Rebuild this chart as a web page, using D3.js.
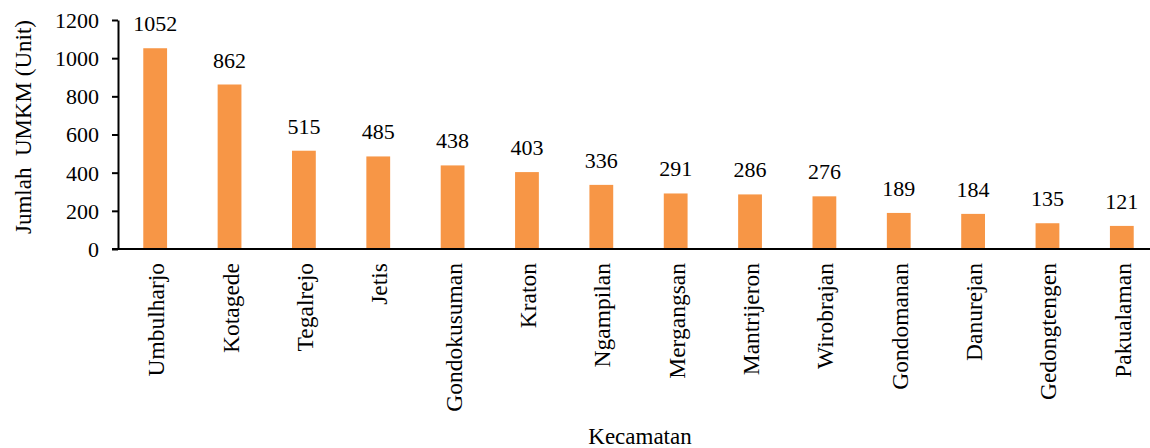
<!DOCTYPE html>
<html>
<head>
<meta charset="utf-8">
<script src="https://cdn.jsdelivr.net/npm/d3@7"></script>
<style>
  body { margin: 0; background: #fff; }
  svg text { font-family: "Times New Roman", "Liberation Serif", serif !important; fill: #000; }
</style>
</head>
<body>
<svg id="chart" width="1150" height="448"></svg>
<script>
  // data
  var kecamatan = ["Umbulharjo", "Kotagede", "Tegalrejo", "Jetis", "Gondokusuman", "Kraton",
    "Ngampilan", "Mergangsan", "Mantrijeron", "Wirobrajan", "Gondomanan", "Danurejan",
    "Gedongtengen", "Pakualaman"];
  var jumlah = [1052, 862, 515, 485, 438, 403, 336, 291, 286, 276, 189, 184, 135, 121];
  var yTicks = [0, 200, 400, 600, 800, 1000, 1200];

  var svg = d3.select("#chart");
  var m = { left: 118, right: 1159, top: 20, bottom: 249 };

  var x = d3.scaleBand()
    .domain(kecamatan)
    .range([m.left, m.right])
    .paddingInner(0.68)
    .paddingOuter(0.34);

  var y = d3.scaleLinear()
    .domain([0, 1200])
    .range([m.bottom, m.top]);

  // bars
  svg.append("g").selectAll("rect")
    .data(kecamatan)
    .enter().append("rect")
    .attr("x", function (d) { return x(d); })
    .attr("y", function (d, i) { return y(jumlah[i]); })
    .attr("width", x.bandwidth())
    .attr("height", function (d, i) { return m.bottom - y(jumlah[i]); })
    .attr("fill", "#f79646");

  // value labels
  svg.append("g").selectAll("text")
    .data(kecamatan)
    .enter().append("text")
    .attr("x", function (d) { return x(d) + x.bandwidth() / 2; })
    .attr("y", function (d, i) { return y(jumlah[i]) - 17; })
    .attr("text-anchor", "middle")
    .style("font-size", "22px")
    .text(function (d, i) { return jumlah[i]; });

  // y axis
  var yAxis = svg.append("g")
    .attr("transform", "translate(" + m.left + ",0)")
    .call(d3.axisLeft(y).tickValues(yTicks).tickFormat(d3.format("d"))
      .tickSize(6).tickPadding(13).tickSizeOuter(0));
  yAxis.attr("font-family", null);
  yAxis.selectAll("text").style("font-size", "22px").attr("dy", "0.34em");
  yAxis.selectAll("line, path").attr("stroke", "#000").attr("stroke-width", 2);

  // x axis line
  svg.append("line")
    .attr("x1", m.left - 6).attr("x2", 1150)
    .attr("y1", m.bottom).attr("y2", m.bottom)
    .attr("stroke", "#000").attr("stroke-width", 2);

  // category labels, rotated
  svg.append("g").selectAll("text")
    .data(kecamatan)
    .enter().append("text")
    .attr("transform", function (d) {
      return "translate(" + (x(d) + x.bandwidth() / 2 + 9) + "," + (m.bottom + 14) + ") rotate(-90)";
    })
    .attr("text-anchor", "end")
    .style("font-size", "23.5px")
    .text(function (d) { return d; });

  // axis titles
  svg.append("text")
    .attr("transform", "translate(31,127) rotate(-90)")
    .attr("text-anchor", "middle")
    .style("font-size", "23px")
    .style("white-space", "pre")
    .text("Jumlah  UMKM (Unit)");

  svg.append("text")
    .attr("x", 640).attr("y", 444)
    .attr("text-anchor", "middle")
    .style("font-size", "23px")
    .text("Kecamatan");
</script>
</body>
</html>
